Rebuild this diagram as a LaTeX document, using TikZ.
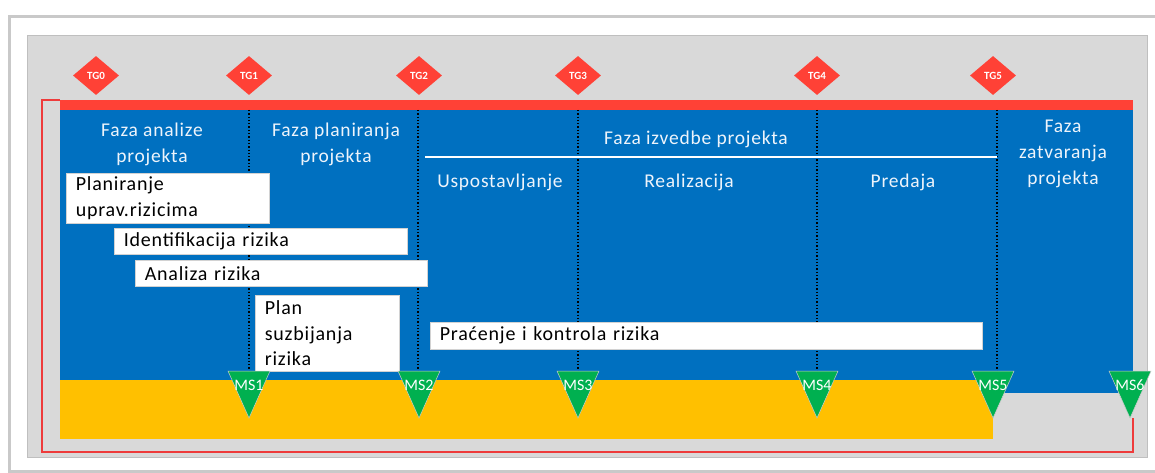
\documentclass[tikz,border=0pt]{standalone}
\usepackage{fontspec}
\setmainfont{Carlito}
\newfontfamily\boxfont[LetterSpace=4]{Carlito}
\usetikzlibrary{shapes.geometric}
\definecolor{panelgrey}{HTML}{D9D9D9}
\definecolor{framegrey}{HTML}{C9C9C9}
\definecolor{redbar}{HTML}{FF4136}
\definecolor{thinred}{HTML}{EE3B3B}
\definecolor{phaseblue}{HTML}{0070C0}
\definecolor{phaseyellow}{HTML}{FFC000}
\definecolor{msgreen}{HTML}{00B050}
\definecolor{headwhite}{HTML}{EEF4FB}
\tikzset{
  headtext/.style={text=headwhite, font=\boxfont\fontsize{19.5}{26}\selectfont, align=center, inner sep=0pt},
  wbox/.style={fill=white, draw=gray!35, line width=0.5pt, anchor=north west, inner xsep=9.5pt, inner ysep=0pt, align=left, font=\boxfont\fontsize{20}{25.5}\selectfont},
  tgdiamond/.style={shape=diamond, fill=redbar, inner sep=0pt, minimum width=46pt, minimum height=39pt, text=white, font=\bfseries\fontsize{11}{12}\selectfont},
  mslabel/.style={text=white, font=\fontsize{16}{17}\selectfont, inner sep=0pt},
  phaseline/.style={dotted, line width=1.3pt, black}
}
\begin{document}
\begin{tikzpicture}[x=1pt,y=-1pt]
\useasboundingbox (0,0) rectangle (1155,473);
\fill[white] (0,0) rectangle (1155,473);
% outer frame
\draw[framegrey, line width=2.8pt] (9.5,16.5) rectangle (1175,471.5);
% grey panel
\fill[panelgrey, draw=gray!50, line width=0.6pt] (27,35) rectangle (1147,457);
% thin red outline
\draw[thinred, line width=1.3pt] (60,100) -- (42,100) -- (42,452) -- (1133,452) -- (1133,418);
% blue and yellow areas
\fill[phaseblue] (60,110) rectangle (1133,393);
\fill[phaseyellow] (60,380) rectangle (993,439);
\fill[redbar] (60,100) rectangle (1133,110);
% phase boundaries
\foreach \x in {249,418,578,817,997} {
  \draw[phaseline] (\x,110) -- (\x,376);
}
\draw[white, line width=1.3pt] (425,157) -- (997,157);
% phase titles
\node[headtext] (fa) at (152,144) {Faza analize\\projekta};
\node[headtext] (fp) at (336,144) {Faza planiranja\\projekta};
\node[headtext] (fi) at (696,139) {Faza izvedbe projekta};
\node[headtext] (us) at (500,182) {Uspostavljanje};
\node[headtext] (re) at (689,182) {Realizacija};
\node[headtext] (pr) at (903,182) {Predaja};
\node[headtext] (fz) at (1063,154) {Faza\\zatvaranja\\projekta};
% activity boxes
\node[wbox, text width=184pt, minimum height=50pt] (b1) at (66,173) {Planiranje\\uprav.rizicima};
\node[wbox, text width=274pt, minimum height=26pt] (b2) at (114,228) {Identifikacija rizika};
\node[wbox, text width=273pt, minimum height=26pt] (b3) at (135,260) {Analiza rizika};
\node[wbox, text width=125pt, minimum height=76pt] (b4) at (255,295) {Plan\\suzbijanja\\rizika};
\node[wbox, text width=533pt, minimum height=27pt] (b5) at (430,322) {Praćenje i kontrola rizika};
% tollgates
\foreach \x/\n in {96/0,249/1,419/2,578/3,817/4,993/5} {
  \node[tgdiamond] (tg\n) at (\x,75.5) {TG\n};
}
% milestones
\foreach \x/\n in {249/1,419/2,578/3,817/4,993/5,1130/6} {
  \fill[msgreen, draw=gray!40, line width=0.5pt] (\x-21,371) -- (\x+21,371) -- (\x,418) -- cycle;
  \node[mslabel] (ms\n) at (\x,385) {MS\n};
}
\end{tikzpicture}
\end{document}
